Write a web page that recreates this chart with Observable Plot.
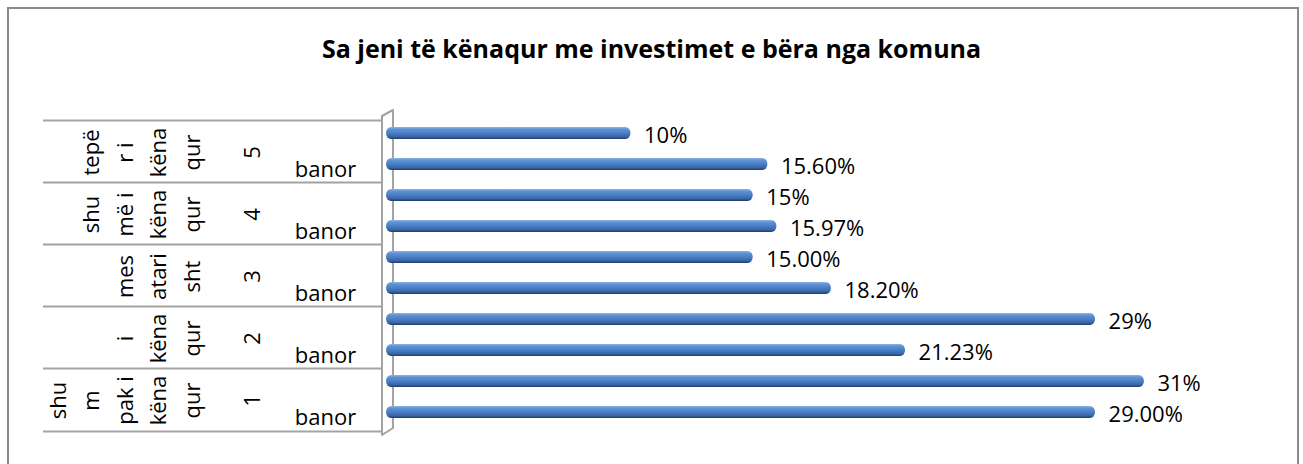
<!DOCTYPE html>
<html>
<head>
<meta charset="utf-8">
<script src="https://cdn.jsdelivr.net/npm/d3@7"></script>
<script src="https://cdn.jsdelivr.net/npm/@observablehq/plot@0.6"></script>
<style>
  html, body { margin: 0; padding: 0; background: #fff; }
  #wrap { position: relative; width: 1303px; height: 464px; overflow: hidden; font-family: "Open Sans", sans-serif; }
  #border { position: absolute; left: 7px; top: 7px; width: 1292px; height: 480px; border: 2px solid #8a8a8a; box-sizing: border-box; }
  #title { position: absolute; left: 0; top: 36px; width: 1303px; text-align: center; font-weight: bold; font-size: 25px; line-height: 25px; color: #000; }
  #chart { position: absolute; left: 0; top: 100px; }
</style>
</head>
<body>
<div id="wrap">
  <div id="border"></div>
  <div id="title"></div>
  <div id="chart"></div>
</div>
<script>
// ---- data ----
const title = "Sa jeni të kënaqur me investimet e bëra nga komuna";
const groups = ["5", "4", "3", "2", "1"]; // top to bottom
const groupWords = [
  ["tepë", "r i", "këna", "qur"],
  ["shu", "më i", "këna", "qur"],
  ["mes", "atari", "sht"],
  ["i", "këna", "qur"],
  ["shu", "m", "pak i", "këna", "qur"]
];
const unitLabel = "banor";
const upperValues = [10, 15, 15, 29, 31];
const upperLabels = ["10%", "15%", "15.00%", "29%", "31%"];
const lowerValues = [15.6, 15.97, 18.2, 21.23, 29];
const lowerLabels = ["15.60%", "15.97%", "18.20%", "21.23%", "29.00%"];

document.getElementById("title").textContent = title;

// ---- tables built from the arrays ----
const bars = [];
const groupRows = [];
const wordRows = [];
groups.forEach((g, i) => {
  const k1 = g + "-a", k2 = g + "-b";
  bars.push({key: k1, value: upperValues[i], label: upperLabels[i]});
  bars.push({key: k2, value: lowerValues[i], label: lowerLabels[i]});
  groupRows.push({group: g, first: k1, second: k2, unit: unitLabel});
  const w = groupWords[i];
  w.forEach((word, j) => wordRows.push({first: k1, word, k: w.length - 1 - j}));
});
const keys = bars.map(d => d.key);
const lastKey = keys[keys.length - 1];

const textColor = "#000";
const lineColor = "#a3a3a3";

function wallAndDefs(index, scales, values, dimensions) {
  const g = d3.create("svg:g");
  const defs = g.append("defs");
  const grad = defs.append("linearGradient").attr("id", "barGrad")
    .attr("x1", 0).attr("y1", 0).attr("x2", 0).attr("y2", 1);
  [[0, "#8fb4e6"], [0.18, "#5f93d6"], [0.5, "#4a7fc4"], [0.8, "#3a66a6"], [1, "#1f3c66"]]
    .forEach(([o, c]) => grad.append("stop").attr("offset", o).attr("stop-color", c));
  const x0 = scales.x(0);
  const top = dimensions.marginTop;
  const bottom = dimensions.height - dimensions.marginBottom;
  const l = x0 - 4, r = x0 + 7;
  g.append("path")
    .attr("d", `M${l},${top}L${r},${top - 6}L${r},${bottom - 7}L${l},${bottom}Z`)
    .attr("fill", "#fff").attr("stroke", lineColor).attr("stroke-width", 2)
    .attr("stroke-linejoin", "round");
  return g.node();
}

const marginLeft = 43, marginRight = 61;
const width = 1303, height = 350;
const frameRight = width - marginRight;

const wordMarks = [0, 1, 2, 3, 4].map(k => Plot.text(wordRows.filter(d => d.k === k), {
  y: "first", text: "word", frameAnchor: "left", dx: 149 - 33.5 * k, dy: 19,
  rotate: -90, textAnchor: "middle", fill: textColor, fontSize: 22
}));

const chart = Plot.plot({
  width, height,
  marginLeft, marginRight, marginTop: 16, marginBottom: 15,
  style: {fontFamily: "Open Sans, sans-serif", fontSize: "22px", background: "transparent", overflow: "visible"},
  x: {domain: [0, 35], range: [386, 386 + 35 * 24.45], axis: null},
  y: {type: "band", domain: keys, range: [23, 322], paddingInner: 0.62, paddingOuter: 0, axis: null},
  marks: [
    wallAndDefs,
    Plot.ruleY(groupRows, {y: "first", dy: -13, insetRight: frameRight - 382, stroke: lineColor, strokeWidth: 2}),
    Plot.ruleY([lastKey], {dy: 19, insetRight: frameRight - 382, stroke: lineColor, strokeWidth: 2}),
    Plot.barX(bars, {x: "value", y: "key", fill: "url(#barGrad)", rx: 5, ry: 6}),
    Plot.text(bars, {x: "value", y: "key", text: "label", dx: 13, dy: 2, textAnchor: "start", fill: textColor, fontSize: 22}),
    ...wordMarks,
    Plot.text(groupRows, {y: "first", text: "group", frameAnchor: "left", dx: 252 - marginLeft, dy: 19, rotate: -90, textAnchor: "middle", fill: textColor, fontSize: 22}),
    Plot.text(groupRows, {y: "second", text: "unit", frameAnchor: "left", dx: 325 - marginLeft, dy: 5, textAnchor: "middle", fill: textColor, fontSize: 22})
  ]
});
document.getElementById("chart").appendChild(chart);
</script>
</body>
</html>
